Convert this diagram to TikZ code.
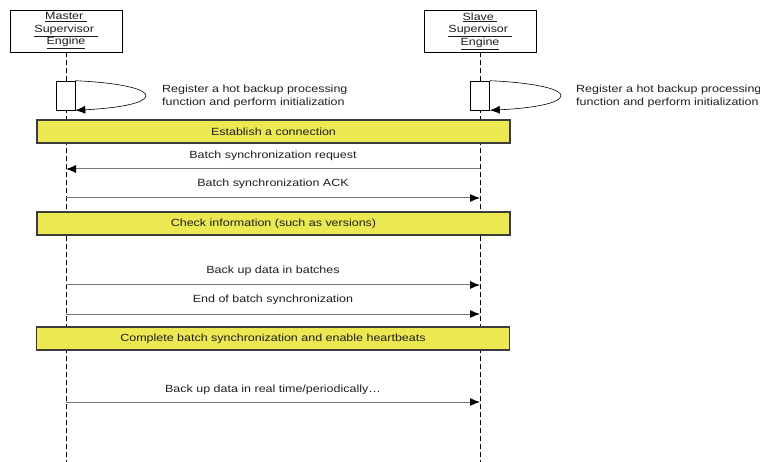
\documentclass[tikz,border=0pt]{standalone}
\usepackage{fontspec}
\newfontfamily\dfont[FakeStretch=1.2]{Liberation Sans}
\usetikzlibrary{arrows.meta}
\definecolor{baryellow}{RGB}{236,232,82}
\definecolor{barborder}{RGB}{60,60,60}
\definecolor{msggray}{RGB}{120,120,120}
\definecolor{txt}{RGB}{30,30,30}
\tikzset{
  lbl/.style={font=\dfont\fontsize{10.4}{12.5}\selectfont, text=txt, inner sep=0pt},
  actor/.style={draw=black, line width=0.6pt, fill=white, minimum width=112pt, minimum height=42pt, inner sep=0pt, align=center, font=\dfont\fontsize{10.4}{12.5}\selectfont, text=txt},
  life/.style={draw=black, line width=0.7pt, dash pattern=on 5pt off 3pt},
  actbox/.style={draw=black, line width=0.6pt, fill=white, minimum width=19pt, minimum height=29pt, inner sep=0pt},
  bar/.style={draw=barborder, line width=1.1pt, fill=baryellow, minimum width=473pt, minimum height=23pt, inner sep=0pt, font=\dfont\fontsize{10.4}{12}\selectfont, text=txt},
  msg/.style={draw=msggray, line width=1pt, -{Latex[length=10pt,width=8pt,black]}},
  selfarr/.style={draw=black, line width=0.6pt, -{Latex[length=10pt,width=8pt,black]}}
}
\begin{document}
\begin{tikzpicture}[x=1pt,y=-1pt]
\useasboundingbox (0,0) rectangle (760,462);
% actors
\node[actor] (master) at (66,31) {\underline{Master\ }\\\underline{Supervisor\ }\\\underline{Engine}};
\node[actor] (slave) at (480,31) {\underline{Slave\ }\\\underline{Supervisor\ }\\\underline{Engine}};
\coordinate (mend) at (66,462);
\coordinate (send) at (480,462);
\draw[life] (master.south) -- (mend);
\draw[life] (slave.south) -- (send);
% activation boxes
\node[actbox] (mact) at (65.5,95.5) {};
\node[actbox] (sact) at (480,95.5) {};
\draw[selfarr] (mact.north east) .. controls (125,83) and (147,90) .. (146,96) .. controls (145,103) and (120,108) .. (mact.south east);
\draw[selfarr] (sact.north east) .. controls (540,83) and (562,90) .. (561,96) .. controls (560,103) and (535,108) .. (sact.south east);
\node[lbl, anchor=west, align=left] (mnote) at (162,96.5) {Register a hot backup processing\\function and perform initialization};
\node[lbl, anchor=west, align=left] (snote) at (576,96.5) {Register a hot backup processing\\function and perform initialization};
% bars
\node[bar] (b1) at (273.5,131.5) {Establish a connection};
\node[bar] (b2) at (273.5,223.5) {Check information (such as versions)};
\node[bar] (b3) at (273,338.5) {Complete batch synchronization and enable heartbeats};
% messages
\coordinate (m1) at (66,169); \coordinate (s1) at (480,169);
\draw[msg] (s1) -- node[lbl, above=8pt] (l1) {Batch synchronization request} (m1);
\coordinate (m2) at (66,198); \coordinate (s2) at (480,198);
\draw[msg] (m2) -- node[lbl, above=9pt] (l2) {Batch synchronization ACK} (s2);
\coordinate (m3) at (66,285); \coordinate (s3) at (480,285);
\draw[msg] (m3) -- node[lbl, above=9pt] (l3) {Back up data in batches} (s3);
\coordinate (m4) at (66,314); \coordinate (s4) at (480,314);
\draw[msg] (m4) -- node[lbl, above=9pt] (l4) {End of batch synchronization} (s4);
\coordinate (m5) at (66,402); \coordinate (s5) at (480,402);
\draw[msg] (m5) -- node[lbl, above=7pt] (l5) {Back up data in real time/periodically\ldots} (s5);
\end{tikzpicture}
\end{document}
